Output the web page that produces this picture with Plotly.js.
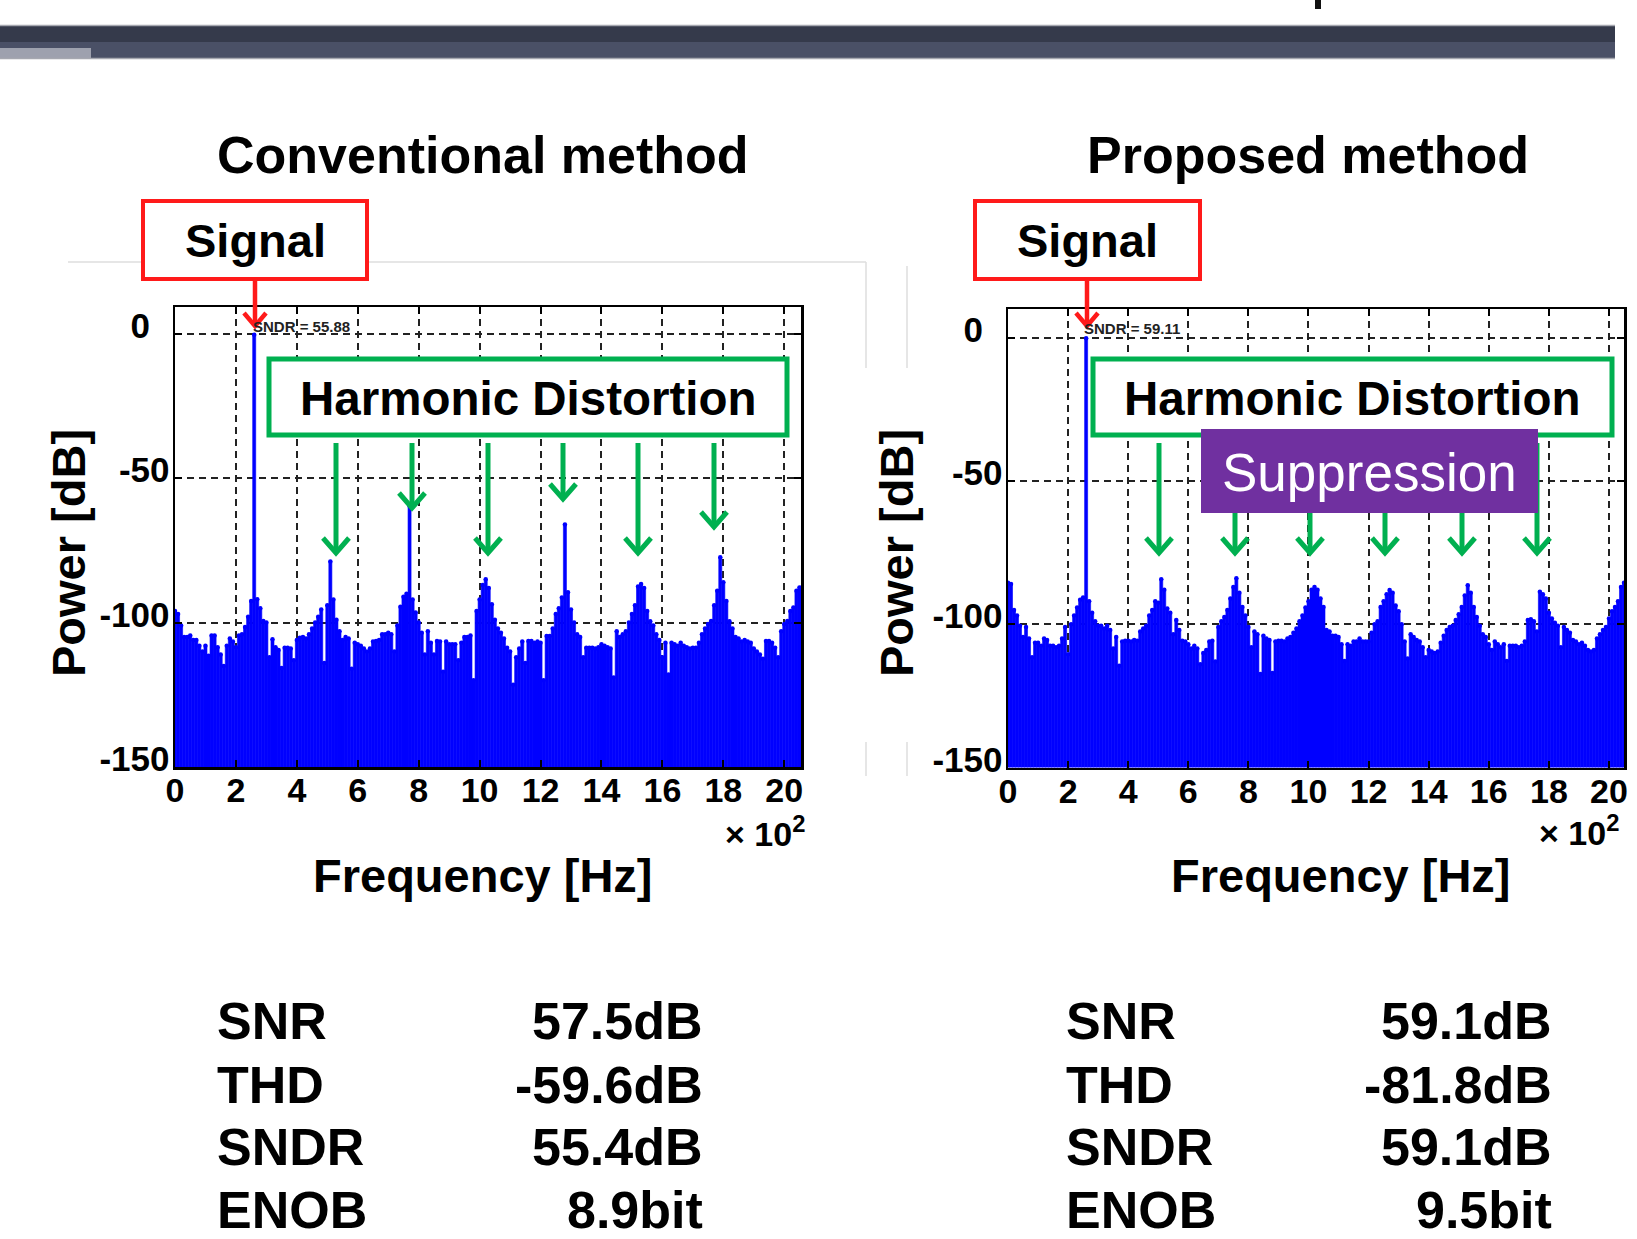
<!DOCTYPE html>
<html><head><meta charset="utf-8">
<script src="https://cdn.plot.ly/plotly-3.0.1.min.js"></script>
<style>html,body{margin:0;padding:0;background:#fff;overflow:hidden}#chart{width:1637px;height:1239px}</style>
</head><body><div id="chart"></div><script>
// ---------------- data (frequency in units of ×10^2 Hz, power in dB) ----------------
const freqStep = 0.1;
const convPower = [
-96,-97,-101,-105,-105,-104.5,-106,-106,-108,-110,
-108,-111.5,-104.5,-104.5,-108.5,-111,-115,-108,-105.5,-106.5,
-108.5,-104.5,-104,-101.5,-98,-92.5,-0.3,-91.9,-95,-99.4,
-100,-112,-105.8,-108.5,-109.5,-115.7,-108.7,-108.7,-109,-113,
-106,-105.2,-105,-105.5,-104,-102,-100,-98,-95.5,-114,
-94,-78.8,-92,-99,-103,-106,-105,-105.5,-116,-107,
-107.5,-108,-109,-110,-109,-106.5,-106.4,-106,-104,-104,
-103.5,-104,-110,-101,-94.5,-91,-90,-59.6,-92,-96.5,
-100,-103.5,-111,-103,-107,-111,-106.4,-106.5,-117,-106.5,
-107.5,-107.5,-107.5,-113,-107,-105,-105,-104.5,-120,-96,
-92,-87,-85,-88,-93.6,-99,-102,-103.5,-105.5,-108.7,
-110,-121.5,-112,-109,-106.5,-114,-106.4,-106.4,-107,-106.5,
-107,-120,-104.6,-104.6,-102,-97,-95,-91.3,-66,-89.5,
-95.5,-100,-104,-105,-112,-108.7,-108.7,-108.7,-109,-108.5,
-107.5,-108,-108.5,-109,-119,-103,-105,-104,-103,-100,
-97,-94,-87.5,-86.6,-88,-96,-99.5,-101,-104,-106,
-112,-107,-118,-107,-107.5,-108,-107,-108,-108.5,-109,
-108.7,-108.7,-107,-104,-102,-100.5,-99.4,-94,-89,-77.4,
-86,-92.5,-99.5,-102,-105,-105.5,-106.5,-106,-106.5,-107,
-109,-110,-111,-112.5,-106.4,-106.4,-107,-108.7,-112,-103,
-100.5,-99.4,-96,-94.8,-89,-87.8
];
const propPower = [
-85.5,-86,-95,-97,-100.5,-104.5,-101,-105,-111.5,-106.5,
-106.5,-107.5,-105,-105.5,-107.5,-107.5,-108,-107.5,-105,-101,
-110.5,-100,-97,-94.2,-91.5,-90.7,-0.2,-92,-96,-99,
-100.5,-100.5,-101.5,-100.5,-102,-108.5,-104.5,-114.5,-106,-105.8,
-105.8,-106,-105.5,-105.8,-102.5,-101.5,-100.5,-97,-95,-92,
-92.5,-84.3,-88,-94.5,-96,-103.5,-98.5,-102,-105.8,-106,
-107,-108.5,-107.5,-108.5,-114,-110,-109,-106,-105.8,-113,
-101,-99,-97.5,-95,-91,-87,-84,-89,-94,-97,
-101,-108,-102.5,-103.5,-117.4,-104,-105,-105.5,-117,-106,
-105.8,-105.8,-106,-105,-104.5,-103,-101.5,-99,-97,-94.2,
-92,-88,-87,-88,-91,-94,-102,-102.5,-104,-104,
-104.5,-107,-112.8,-107,-107.5,-106,-106,-105,-106,-106,
-106,-103,-100,-99,-94,-92,-89.5,-88.1,-89,-93.5,
-95.5,-100,-106,-112,-103.5,-104.5,-105.5,-106,-108,-111.5,
-109,-109.5,-110,-109.5,-106.5,-104,-102,-101,-100.5,-98.5,
-96.5,-94,-90,-86.4,-89,-94,-97.5,-100.5,-103.5,-104.5,
-107,-109,-106,-107,-108,-107,-112.8,-107.5,-107.5,-107.5,
-108,-107.5,-106,-98.5,-98.3,-99,-102.5,-88.7,-89.5,-91,
-96,-98,-99.5,-100.5,-108,-101,-102,-103,-105.5,-106,
-107,-106.5,-107.5,-109,-109.5,-109,-105,-103.5,-102,-101,
-98,-95.5,-94,-92,-87,-85.5
];
const xTickVals = [0,2,4,6,8,10,12,14,16,18,20];
const yTickVals = [0,-50,-100,-150];
const yTickText = ['0\u00a0\u00a0','-50','-100','-150'];
const panelTitles = ['Conventional method','Proposed method'];
const sndrTexts = ['SNDR = 55.88','SNDR = 59.11'];
const statLabels = ['SNR','THD','SNDR','ENOB'];
const convStats = ['57.5dB','-59.6dB','55.4dB','8.9bit'];
const propStats = ['59.1dB','-81.8dB','59.1dB','9.5bit'];
const FLOOR = -150;

// ---------------- layout helpers ----------------
const W = 1637, H = 1239;
const FONT = 'Liberation Sans, Arial, Helvetica, sans-serif';
const X = p => p / W, Y = p => 1 - p / H;
const freq = convPower.map((_, i) => +(i * freqStep).toFixed(2));

function xAxis(domain, range, anchor){
  return {domain:domain, range:range, anchor:anchor, tickmode:'array', tickvals:xTickVals,
    ticktext:xTickVals.map(String), showgrid:true, gridcolor:'#222', gridwidth:2, griddash:'7px,5px',
    zeroline:false, showline:true, linecolor:'#000', linewidth:2.5, mirror:'ticks', ticks:'inside',
    ticklen:7, tickwidth:2, tickcolor:'#000', ticklabelstandoff:-8,
    tickfont:{family:FONT, size:34, color:'#000', weight:'bold'}, fixedrange:true};
}
function yAxis(domain, range, anchor){
  return {domain:domain, range:range, anchor:anchor, tickmode:'array', tickvals:yTickVals,
    ticktext:yTickText, showgrid:true, gridcolor:'#222', gridwidth:2, griddash:'7px,5px',
    zeroline:false, showline:true, linecolor:'#000', linewidth:2.5, mirror:'ticks', ticks:'inside',
    ticklen:7, tickwidth:2, tickcolor:'#000', ticklabelshift:-8, ticklabelstandoff:-4,
    tickfont:{family:FONT, size:35, color:'#000', weight:'bold'}, fixedrange:true};
}
function bars(vals, xa, ya){
  return {type:'bar', x:freq, y:vals.map(v => v - FLOOR), base:FLOOR, width:freqStep,
    marker:{color:'#0000ff', line:{width:0.6, color:'#0000ff'}}, xaxis:xa, yaxis:ya, hoverinfo:'skip'};
}
function dots(vals, xa, ya){
  return {type:'scatter', mode:'markers', x:freq, y:vals, marker:{size:4.5, color:'#0000ff'},
    xaxis:xa, yaxis:ya, hoverinfo:'skip'};
}
function txt(text, x, y, size, o){
  o = o || {};
  return {text:text, x:X(x), y:Y(y), xref:'paper', yref:'paper', showarrow:false,
    xanchor:o.xa || 'center', yanchor:'middle', textangle:o.angle || 0,
    font:{family:FONT, size:size, color:o.color || '#000', weight:o.weight || 'bold'}};
}
function rect(x0, y0, x1, y1, fill, lineColor, lw){
  return {type:'rect', xref:'paper', yref:'paper', x0:X(x0), x1:X(x1), y0:Y(y1), y1:Y(y0),
    fillcolor:fill, line:{color:lineColor || fill, width:lw || 0}, layer:'above'};
}
function seg(x0, y0, x1, y1, color, w){
  return {type:'line', xref:'paper', yref:'paper', x0:X(x0), x1:X(x1), y0:Y(y0), y1:Y(y1),
    line:{color:color, width:w}, layer:'above'};
}
function arrow(x, y0, tip, color, w, arm){
  return [seg(x, y0, x, tip - 2, color, w),
    {type:'path', xref:'paper', yref:'paper', layer:'above', line:{color:color, width:w},
     path:'M '+X(x-arm)+','+Y(tip-arm-2)+' L '+X(x)+','+Y(tip)+' L '+X(x+arm)+','+Y(tip-arm-2)}];
}

// ---------------- shapes ----------------
let shapes = [
  rect(0, 26, 1615, 42, '#353a4b'),
  rect(0, 42, 1615, 58, '#4a5066'),
  rect(0, 48, 91, 58, '#9ea1ae'),
  seg(0, 25.5, 1615, 25.5, '#a6a8b0', 1.5),
  seg(0, 58.5, 1615, 58.5, '#a6a8b0', 1.5),
  rect(1315, 0, 1321, 9, '#111'),
  // faint figure-frame remnants
  seg(68, 262, 866, 262, '#dedede', 1.5),
  seg(866, 262, 866, 368, '#dedede', 1.5),
  seg(866, 742, 866, 776, '#dedede', 1.5),
  seg(907, 266, 907, 368, '#dedede', 1.5),
  seg(907, 742, 907, 776, '#dedede', 1.5),
  // Signal boxes
  rect(143, 201, 367, 279, '#ffffff', '#ff1a1a', 4),
  rect(975, 201, 1200, 279, '#ffffff', '#ff1a1a', 4),
  // Harmonic distortion boxes
  rect(269, 359, 787, 435, '#ffffff', '#00b050', 5),
  rect(1093, 359, 1612, 435, '#ffffff', '#00b050', 5)
];
shapes = shapes.concat(arrow(255, 279, 326, '#ff1a1a', 4.5, 11));
shapes = shapes.concat(arrow(1087, 279, 326, '#ff1a1a', 4.5, 11));
const leftArrows = [[336,553],[412,508],[488,553],[563,499],[638,553],[714,527]];
leftArrows.forEach(a => { shapes = shapes.concat(arrow(a[0], 443, a[1], '#00b050', 5, 13)); });
const rightArrows = [1159,1235,1310,1385,1462,1537];
rightArrows.forEach(x => { shapes = shapes.concat(arrow(x, 443, 553, '#00b050', 5, 13)); });
shapes.push(rect(1201, 429, 1538, 513, '#7030a0'));

// ---------------- annotations ----------------
let ann = [
  txt(panelTitles[0], 483, 155, 52),
  txt(panelTitles[1], 1308, 155, 52),
  txt('Signal', 255, 240, 47),
  txt('Signal', 1087, 240, 47),
  txt('Harmonic Distortion', 528, 398, 47.5),
  txt('Harmonic Distortion', 1352, 398, 47.5),
  txt('Suppression', 1369, 472, 53, {color:'#ffffff', weight:'normal'}),
  txt(sndrTexts[0], 251, 326, 15, {xa:'left', color:'#222'}),
  txt(sndrTexts[1], 1082, 328, 15, {xa:'left', color:'#222'}),
  txt('Power [dB]', 68, 553, 47, {angle:-90}),
  txt('Power [dB]', 896, 553, 47, {angle:-90}),
  txt('Frequency [Hz]', 483, 875, 47),
  txt('Frequency [Hz]', 1341, 875, 47),
  txt('× 10<sup>2</sup>', 807, 831, 34, {xa:'right'}),
  txt('× 10<sup>2</sup>', 1621, 830, 34, {xa:'right'})
];
const rowY = [1021, 1085, 1147, 1210];
statLabels.forEach((l, i) => {
  ann.push(txt(l, 215, rowY[i], 52, {xa:'left'}));
  ann.push(txt(convStats[i], 705, rowY[i], 52, {xa:'right'}));
  ann.push(txt(l, 1064, rowY[i], 52, {xa:'left'}));
  ann.push(txt(propStats[i], 1554, rowY[i], 52, {xa:'right'}));
});

const data = [
  bars(convPower, 'x', 'y'), dots(convPower, 'x', 'y'),
  bars(propPower, 'x2', 'y2'), dots(propPower, 'x2', 'y2')
];
const layout = {
  width:W, height:H, margin:{l:0, r:0, t:0, b:0}, autosize:false,
  paper_bgcolor:'#ffffff', plot_bgcolor:'#ffffff', showlegend:false, bargap:0,
  xaxis: xAxis([X(175), X(801)], [0, 20.55], 'y'),
  yaxis: yAxis([Y(767), Y(307)], [-150, 9.3], 'x'),
  xaxis2: xAxis([X(1008), X(1624)], [0, 20.5], 'y2'),
  yaxis2: yAxis([Y(767.5), Y(309)], [-150, 10], 'x2'),
  shapes: shapes, annotations: ann
};
Plotly.newPlot('chart', data, layout, {staticPlot:true, displayModeBar:false});
</script></body></html>
